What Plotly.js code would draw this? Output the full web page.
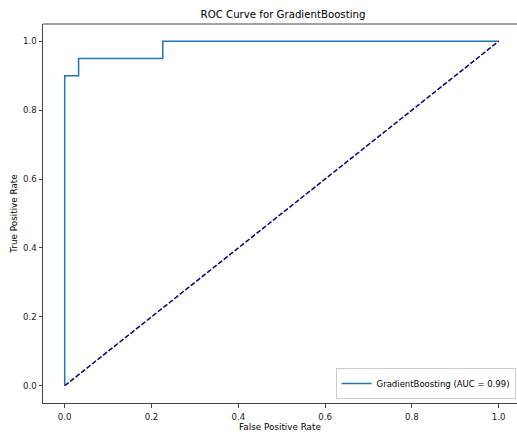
<!DOCTYPE html>
<html>
<head>
<meta charset="utf-8">
<script src="https://cdn.plot.ly/plotly-3.0.1.min.js"></script>
<style>
html,body{margin:0;padding:0;overflow:hidden;background:#fff;}
#chart{width:517px;height:432px;}
</style>
</head>
<body>
<div id="chart"></div>
<script>
const fpr = [0, 0, 0.032, 0.032, 0.226, 0.226, 1];
const tpr = [0, 0.9, 0.9, 0.95, 0.95, 1, 1];
const diagX = [0, 1];
const diagY = [0, 1];
const modelName = "GradientBoosting";
const aucLabel = "0.99";
const xTicks = [0, 0.2, 0.4, 0.6, 0.8, 1.0];
const yTicks = [0, 0.2, 0.4, 0.6, 0.8, 1.0];

const font = "DejaVu Sans, sans-serif";
const axisCommon = {
  showgrid: false, zeroline: false, showline: true, mirror: false,
  linecolor: "#444", linewidth: 1,
  ticks: "outside", ticklen: 3.5, tickwidth: 1, tickcolor: "#444",
  tickfont: {family: font, size: 8.6, color: "#222"},
  tickformat: ".1f"
};

const traces = [
  {x: fpr, y: tpr, type: "scatter", mode: "lines",
   name: modelName + " (AUC = " + aucLabel + ")",
   line: {color: "#1f77b4", width: 1.5}},
  {x: diagX, y: diagY, type: "scatter", mode: "lines", showlegend: false,
   line: {color: "#000080", width: 1.5, dash: "5px,2px"}, hoverinfo: "skip"}
];

const layout = {
  width: 517, height: 432,
  margin: {l: 43, r: 0, t: 24, b: 28.7},
  paper_bgcolor: "#fff", plot_bgcolor: "#fff",
  font: {family: font, color: "#000"},
  title: {text: "ROC Curve for " + modelName, font: {family: font, size: 10.2, color: "#000"},
          xref: "container", x: 283/517, xanchor: "center", yref: "container", y: 1 - 14/432, yanchor: "middle"},
  xaxis: Object.assign({}, axisCommon, {
    range: [-0.05, 1.0422], tickvals: xTicks, ticklabelstandoff: 2,
    title: {text: "False Positive Rate", font: {family: font, size: 8.8, color: "#000"}, standoff: 3}
  }),
  yaxis: Object.assign({}, axisCommon, {
    range: [-0.05, 1.05], tickvals: yTicks,
    title: {text: "True Positive Rate", font: {family: font, size: 8.8, color: "#000"}, standoff: 4}
  }),
  shapes: [
    {type: "line", xref: "paper", yref: "paper", x0: 0, x1: 1, y0: 1, y1: 1,
     line: {color: "#444", width: 1}}
  ],
  legend: {x: 0.997, xanchor: "right", y: 0.0105, yanchor: "bottom",
           bgcolor: "rgba(255,255,255,0.8)", bordercolor: "#ccc", borderwidth: 1,
           font: {family: font, size: 8.5, color: "#000"}, itemwidth: 30},
  showlegend: true
};

Plotly.newPlot("chart", traces, layout, {displayModeBar: false, staticPlot: true});
</script>
</body>
</html>
